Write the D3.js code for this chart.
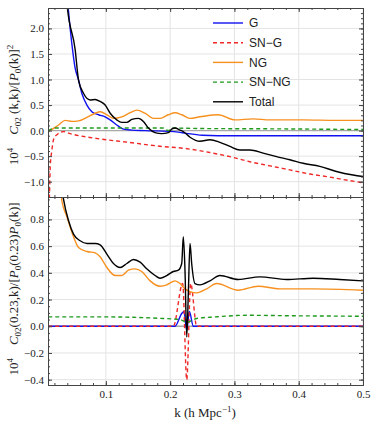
<!DOCTYPE html>
<html>
<head>
<meta charset="utf-8">
<script src="https://cdn.jsdelivr.net/npm/d3@7"></script>
<style>
  body { margin: 0; background: #fff; }
  text { font-family: "Liberation Serif", "DejaVu Serif", serif; }
</style>
</head>
<body>
<svg id="chart"></svg>
<script>
const width = 374, height = 425;

// ---- data ----
// upper panel: 10^4 C02(k,k)/[P0(k)]^2
const kTopG = [0.012, 0.030, 0.040, 0.047, 0.052, 0.0575, 0.0626, 0.0705, 0.0782, 0.0885, 0.0989, 0.1067, 0.117, 0.1273, 0.1404, 0.161, 0.2127, 0.2231, 0.25, 0.30, 0.40, 0.50];
const vTopG = [12, 4.2, 2.6, 1.71, 1.24, 0.99, 0.73, 0.50, 0.37, 0.31, 0.27, 0.21, 0.11, 0.03, 0.01, 0.0, -0.03, -0.05, -0.09, -0.10, -0.10, -0.10];

const kTopSNG = [0.0110, 0.0124, 0.0135, 0.0161, 0.0186, 0.0238, 0.0342, 0.0446, 0.0834, 0.1352, 0.1869, 0.2231, 0.2619, 0.2930, 0.3240, 0.3551, 0.3862, 0.4172, 0.4483, 0.4793, 0.50];
const vTopSNG = [-1.6, -1.2, -0.7, -0.38, -0.18, -0.08, -0.02, -0.06, -0.15, -0.23, -0.31, -0.35, -0.43, -0.51, -0.61, -0.69, -0.77, -0.85, -0.91, -0.98, -1.02];

const kTopNG = [0.0104, 0.0135, 0.0264, 0.0368, 0.0472, 0.0575, 0.0705, 0.0834, 0.0911, 0.1016, 0.1118, 0.1248, 0.1377, 0.1481, 0.1610, 0.1739, 0.1843, 0.1972, 0.2076, 0.2180, 0.2309, 0.2464, 0.2748, 0.3008, 0.3292, 0.3551, 0.4068, 0.4587, 0.50];
const vTopNG = [0.0, 0.01, 0.11, 0.20, 0.18, 0.19, 0.26, 0.34, 0.37, 0.31, 0.24, 0.27, 0.35, 0.40, 0.34, 0.24, 0.24, 0.31, 0.35, 0.31, 0.24, 0.27, 0.31, 0.21, 0.23, 0.21, 0.21, 0.20, 0.20];

const kTopSNNG = [0.0104, 0.0135, 0.0212, 0.10, 0.19, 0.1972, 0.2024, 0.25, 0.35, 0.50];
const vTopSNNG = [0.0, 0.02, 0.05, 0.05, 0.05, 0.0, 0.05, 0.04, 0.035, 0.02];

const kTopTot = [0.012, 0.030, 0.0394, 0.0523, 0.0575, 0.0652, 0.0756, 0.0834, 0.0911, 0.0989, 0.1067, 0.1170, 0.1248, 0.1326, 0.1404, 0.1506, 0.1584, 0.1662, 0.1765, 0.1869, 0.1972, 0.2024, 0.2076, 0.2154, 0.2205, 0.2309, 0.2464, 0.2619, 0.2775, 0.2930, 0.3085, 0.3240, 0.3447, 0.3655, 0.3862, 0.4068, 0.4328, 0.4587, 0.4845, 0.50];
const vTopTot = [12, 4.5, 2.5, 1.58, 0.99, 0.73, 0.60, 0.61, 0.57, 0.50, 0.34, 0.21, 0.16, 0.16, 0.22, 0.24, 0.18, 0.05, -0.04, -0.06, -0.04, 0.03, 0.05, 0.01, -0.02, -0.13, -0.21, -0.18, -0.23, -0.31, -0.38, -0.38, -0.44, -0.51, -0.57, -0.64, -0.70, -0.80, -0.87, -0.90];

// lower panel: 10^4 C02(0.23,k)/[P0(0.23)P0(k)]
const kBotG = [0.0104, 0.20, 0.2076, 0.2180, 0.2215, 0.2258, 0.2299, 0.2360, 0.50];
const vBotG = [0, 0, 0, 0.095, 0.11, -0.03, 0.11, 0, 0];

const kBotSNG = [0.0104, 0.2050, 0.2195, 0.2258, 0.2320, 0.2413, 0.50];
const vBotSNG = [0, 0, 0.32, -0.40, 0.32, 0, 0];

const kBotNG = [0.012, 0.025, 0.0316, 0.0394, 0.0497, 0.0575, 0.0705, 0.0834, 0.0911, 0.1016, 0.1144, 0.1248, 0.1351, 0.1455, 0.1558, 0.1688, 0.1843, 0.1947, 0.2024, 0.2076, 0.2154, 0.2231, 0.2309, 0.2413, 0.2568, 0.2723, 0.3059, 0.3369, 0.3706, 0.4224, 0.50];
const vBotNG = [2.4, 1.3, 0.94, 0.82, 0.67, 0.59, 0.56, 0.55, 0.52, 0.44, 0.38, 0.38, 0.42, 0.43, 0.41, 0.34, 0.30, 0.31, 0.33, 0.34, 0.32, 0.28, 0.26, 0.25, 0.28, 0.32, 0.27, 0.30, 0.28, 0.28, 0.27];

const kBotSNNG = [0.0104, 0.10, 0.18, 0.2154, 0.2258, 0.2413, 0.27, 0.3189, 0.40, 0.50];
const vBotSNNG = [0.07, 0.07, 0.06, 0.05, 0.03, 0.058, 0.07, 0.082, 0.078, 0.075];

const kBotTot = [0.012, 0.020, 0.0342, 0.0420, 0.0497, 0.060, 0.0705, 0.0834, 0.0911, 0.1016, 0.1118, 0.1222, 0.1326, 0.1429, 0.1533, 0.1636, 0.1765, 0.1843, 0.1947, 0.2050, 0.2128, 0.2180, 0.2205, 0.2231, 0.2258, 0.2283, 0.2309, 0.2335, 0.2386, 0.2464, 0.2619, 0.2775, 0.3059, 0.3396, 0.3810, 0.4224, 0.4638, 0.50];
const vBotTot = [2.6, 1.6, 0.95, 0.79, 0.69, 0.64, 0.62, 0.62, 0.61, 0.54, 0.47, 0.44, 0.47, 0.50, 0.48, 0.43, 0.38, 0.36, 0.38, 0.41, 0.42, 0.47, 0.67, 0.42, -0.08, 0.25, 0.62, 0.47, 0.32, 0.31, 0.34, 0.38, 0.35, 0.37, 0.35, 0.36, 0.35, 0.34];

const seriesNames = ["G", "SN\u2212G", "NG", "SN\u2212NG", "Total"];
const seriesColors = ["#1010f0", "#f02828", "#f7901e", "#1f9a1f", "#000000"];
const seriesDash = [null, "4,3", null, "4,3", null];

const xTicks = [0.1, 0.2, 0.3, 0.4, 0.5];
const yTicksTop = [-1.0, -0.5, 0.0, 0.5, 1.0, 1.5, 2.0];
const yTicksBot = [-0.4, -0.2, 0.0, 0.2, 0.4, 0.6, 0.8];

// ---- layout ----
const left = 48, right = 363;
const topPanel = {y0: 8, y1: 197, domain: [-1.3, 2.4], ticks: yTicksTop, minorStep: 0.1,
  series: [[kTopG, vTopG], [kTopSNG, vTopSNG], [kTopNG, vTopNG], [kTopSNNG, vTopSNNG], [kTopTot, vTopTot]]};
const botPanel = {y0: 197, y1: 385, domain: [-0.44, 0.968], ticks: yTicksBot, minorStep: 0.05,
  series: [[kBotG, vBotG], [kBotSNG, vBotSNG], [kBotNG, vBotNG], [kBotSNNG, vBotSNNG], [kBotTot, vBotTot]]};

const svg = d3.select('#chart')
    .attr('width', width)
    .attr('height', height);
svg.append('rect').attr('width', width).attr('height', height).attr('fill', '#fff');

const x = d3.scaleLinear().domain([0.01, 0.5]).range([left, right]);
const xMinor = d3.range(0.02, 0.5001, 0.02).map(d => +d.toFixed(2));
const frameColor = '#444';

function drawPanel(p, idx, showXLabels) {
    const y = d3.scaleLinear().domain(p.domain).range([p.y1, p.y0]);
    const g = svg.append('g');

    const clipId = 'clip' + idx;
    svg.append('clipPath').attr('id', clipId)
      .append('rect').attr('x', left).attr('y', p.y0).attr('width', right - left).attr('height', p.y1 - p.y0);

    // grid
    g.append('g').selectAll('line').data(xTicks).join('line')
        .attr('x1', d => x(d)).attr('x2', d => x(d)).attr('y1', p.y0).attr('y2', p.y1)
        .attr('stroke', '#e4e4e4').attr('stroke-width', 1);
    g.append('g').selectAll('line').data(p.ticks.filter(d => d !== 0)).join('line')
        .attr('x1', left).attr('x2', right).attr('y1', d => y(d)).attr('y2', d => y(d))
        .attr('stroke', '#e4e4e4').attr('stroke-width', 1);
    // zero axis
    g.append('line').attr('x1', left).attr('x2', right).attr('y1', y(0)).attr('y2', y(0))
        .attr('stroke', '#a8a8a8').attr('stroke-width', 1.3);

    // curves
    const line = d3.line().x(d => x(d[0])).y(d => y(d[1])).curve(d3.curveMonotoneX);
    const lines = g.append('g').attr('clip-path', `url(#${clipId})`);
    p.series.forEach((s, i) => {
        const pts = s[0].map((k, j) => [k, s[1][j]]);
        lines.append('path').datum(pts)
            .attr('d', line)
            .attr('fill', 'none')
            .attr('stroke', seriesColors[i])
            .attr('stroke-width', 1.4)
            .attr('stroke-dasharray', seriesDash[i]);
    });

    // axes with inward ticks
    const yMinor = d3.range(Math.ceil(p.domain[0] / p.minorStep) * p.minorStep, p.domain[1], p.minorStep).map(d => +d.toFixed(2));
    const fmt = d3.format('.1f');

    const axL = g.append('g').attr('transform', `translate(${left},0)`)
        .call(d3.axisLeft(y).tickValues(p.ticks).tickSize(-4).tickPadding(4).tickFormat(fmt));
    g.append('g').attr('transform', `translate(${left},0)`)
        .call(d3.axisLeft(y).tickValues(yMinor).tickSize(-2).tickFormat(''));
    g.append('g').attr('transform', `translate(${right},0)`)
        .call(d3.axisRight(y).tickValues(p.ticks).tickSize(-4).tickFormat(''));
    g.append('g').attr('transform', `translate(${right},0)`)
        .call(d3.axisRight(y).tickValues(yMinor).tickSize(-2).tickFormat(''));

    const axB = g.append('g').attr('transform', `translate(0,${p.y1})`)
        .call(d3.axisBottom(x).tickValues(xTicks).tickSize(-4).tickPadding(5).tickFormat(showXLabels ? fmt : ''));
    g.append('g').attr('transform', `translate(0,${p.y1})`)
        .call(d3.axisBottom(x).tickValues(xMinor).tickSize(-2).tickFormat(''));
    g.append('g').attr('transform', `translate(0,${p.y0})`)
        .call(d3.axisTop(x).tickValues(xTicks).tickSize(-4).tickFormat(''));
    g.append('g').attr('transform', `translate(0,${p.y0})`)
        .call(d3.axisTop(x).tickValues(xMinor).tickSize(-2).tickFormat(''));

    g.selectAll('.domain').attr('stroke', frameColor);
    g.selectAll('.tick line').attr('stroke', frameColor);
    g.selectAll('.tick text')
        .attr('fill', '#222')
        .style('font-family', '"Liberation Serif", serif')
        .style('font-size', '11px');
    return y;
}

drawPanel(topPanel, 0, false);
drawPanel(botPanel, 1, true);

// legend
const legend = svg.append('g');
seriesNames.forEach((name, i) => {
    const yy = 23 + i * 19.7;
    legend.append('line')
        .attr('x1', 213).attr('x2', 243).attr('y1', yy).attr('y2', yy)
        .attr('stroke', seriesColors[i]).attr('stroke-width', 1.4)
        .attr('stroke-dasharray', seriesDash[i]);
    legend.append('text')
        .attr('x', 249).attr('y', yy).attr('dy', '0.36em')
        .style('font-family', '"Liberation Sans", Arial, sans-serif')
        .style('font-size', '12px')
        .attr('fill', '#222')
        .text(name);
});

// axis titles
svg.append('text')
    .attr('x', 205).attr('y', 417)
    .attr('text-anchor', 'middle')
    .style('font-size', '13px')
    .attr('fill', '#222')
    .call(t => {
        t.append('tspan').text('k (h Mpc');
        t.append('tspan').attr('dy', -5).style('font-size', '9px').text('\u22121');
        t.append('tspan').attr('dy', 5).text(')');
    });

function yTitle(cx, cy, parts) {
    const t = svg.append('text')
        .attr('transform', `translate(${cx},${cy}) rotate(-90)`)
        .attr('text-anchor', 'middle')
        .style('font-size', '13px')
        .attr('fill', '#222');
    parts.forEach(pt => {
        const ts = t.append('tspan').text(pt.t);
        if (pt.it) ts.style('font-style', 'italic');
        if (pt.sz) ts.style('font-size', pt.sz);
        if (pt.dy) ts.attr('dy', pt.dy);
    });
}

yTitle(18, 105, [
    {t: '10'}, {t: '4', sz: '9px', dy: -5}, {t: '\u2002\u2002', dy: 5},
    {t: 'C', it: true}, {t: '02', sz: '9px', dy: 3}, {t: ' (k,k)/[', dy: -3},
    {t: 'P', it: true}, {t: '0', sz: '9px', dy: 3}, {t: '(k)]', dy: -3},
    {t: '2', sz: '9px', dy: -5}
]);
yTitle(18, 289, [
    {t: '10'}, {t: '4', sz: '9px', dy: -5}, {t: '\u2002\u2002', dy: 5},
    {t: 'C', it: true}, {t: '02', sz: '9px', dy: 3}, {t: '(0.23,k)/[', dy: -3},
    {t: 'P', it: true}, {t: '0', sz: '9px', dy: 3}, {t: '(0.23)', dy: -3},
    {t: 'P', it: true}, {t: '0', sz: '9px', dy: 3}, {t: '(k)]', dy: -3}
]);
</script>
</body>
</html>
